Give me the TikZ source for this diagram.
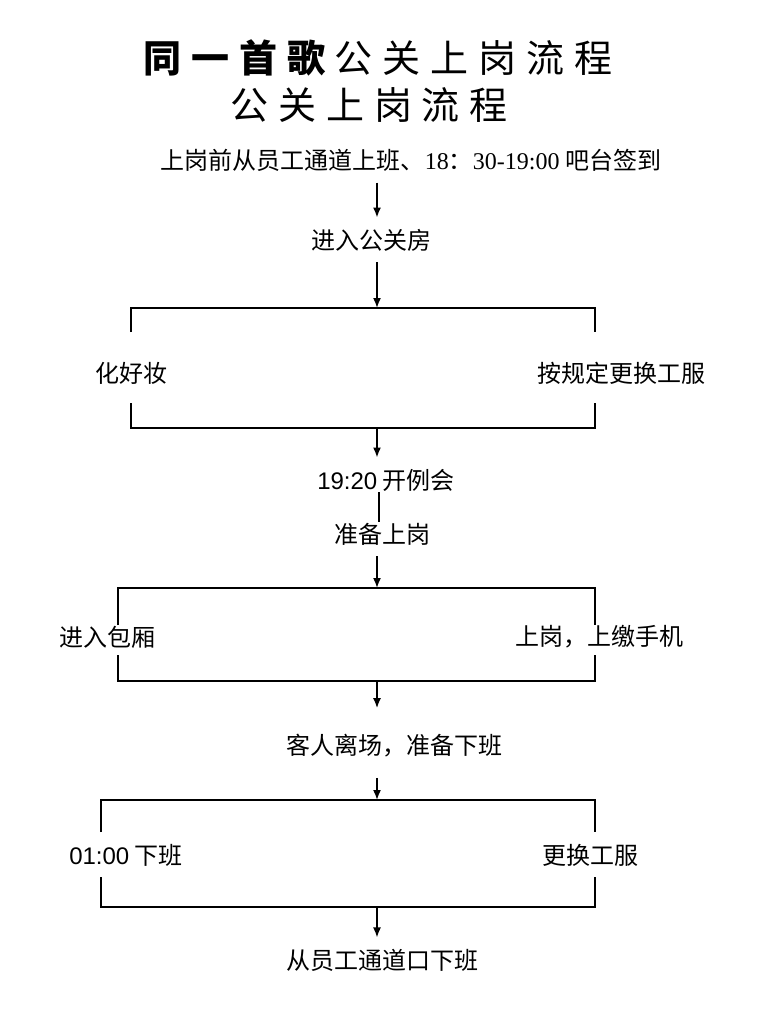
\documentclass[tikz,border=0pt]{standalone}
\usepackage{fontspec}
\setmainfont{Liberation Serif}
\newfontfamily\cjk{Noto Sans CJK SC}
\newfontfamily\cjktitle[LetterSpace=26]{Noto Sans CJK SC}
\newfontfamily\numserif{Liberation Serif}
\newfontfamily\numsans{Liberation Sans}
\usetikzlibrary{arrows.meta}
\newcommand\tgap{\hspace{4.94pt}}

\tikzset{
  titletext/.style={inner sep=0pt, anchor=west, font=\cjktitle\fontsize{19}{22}\selectfont},
  steptext/.style={inner xsep=0pt, inner ysep=5.5pt, font=\cjk\fontsize{12}{14}\selectfont},
  flowarrow/.style={-{Latex[length=5pt,width=4pt]}, line width=0.8pt},
  bracketline/.style={line width=1pt},
}

\begin{document}
\begin{tikzpicture}[x=0.5pt,y=-0.5pt]
  \useasboundingbox (0,0) rectangle (768,1024);
  \fill[white] (0,0) rectangle (768,1024);

  % titles
  \node[titletext] (title1) at (143,58) {{\bfseries 同\tgap 一\tgap 首\tgap 歌\tgap}公关上岗流程};
  \node[titletext] (title2) at (230,105) {公关上岗流程};

  \coordinate (spine) at (377,0);

  % steps on the spine
  \node[steptext] (start) at (411,160) {上岗前从员工通道上班、{\numserif 18}：{\numserif 30-19:00} 吧台签到};
  \node[steptext] (room) at (371,240) {进入公关房};
  \node[steptext] (meeting) at (386,480) {{\numsans 19:20} 开例会};
  \node[steptext] (ready) at (382,534) {准备上岗};
  \node[steptext] (leave) at (394.5,746) {客人离场，准备下班};
  \node[steptext] (exit) at (382.5,960) {从员工通道口下班};

  % bracket labels
  \node[steptext] (makeup) at (131.5,373) {化好妆};
  \node[steptext] (uniform) at (621,373) {按规定更换工服};
  \node[steptext] (box) at (107.5,637) {进入包厢};
  \node[steptext] (phone) at (599,637) {上岗，上缴手机};
  \node[steptext] (off) at (126,855) {{\numsans 01:00} 下班};
  \node[steptext] (change) at (590,855) {更换工服};

  % bracket corners
  \coordinate (b1tl) at (131,308);
  \coordinate (b1br) at (595,428);
  \coordinate (b2tl) at (118,588);
  \coordinate (b2br) at (595,681);
  \coordinate (b3tl) at (101,800);
  \coordinate (b3br) at (595,907);

  % brackets
  \draw[bracketline] (b1tl) ++(0,24) -- (b1tl) -- (b1tl -| b1br) -- ++(0,24);
  \draw[bracketline] (b1br) ++(0,-25) -- (b1br) -- (b1br -| b1tl) -- ++(0,-25);
  \draw[bracketline] (b2tl) ++(0,37) -- (b2tl) -- (b2tl -| b2br) -- ++(0,37);
  \draw[bracketline] (b2br) ++(0,-26) -- (b2br) -- (b2br -| b2tl) -- ++(0,-26);
  \draw[bracketline] (b3tl) ++(0,32) -- (b3tl) -- (b3tl -| b3br) -- ++(0,32);
  \draw[bracketline] (b3br) ++(0,-30) -- (b3br) -- (b3br -| b3tl) -- ++(0,-30);

  % arrows
  \draw[flowarrow] (start.south -| spine) -- (room.north -| spine);
  \draw[flowarrow] (room.south -| spine) -- (b1tl -| spine);
  \draw[flowarrow] (b1br -| spine) -- (meeting.north -| spine);
  \draw[bracketline, shorten <=-5pt, shorten >=-5pt] ([xshift=1pt]meeting.south -| spine) -- ([xshift=1pt]ready.north -| spine);
  \draw[flowarrow] (ready.south -| spine) -- (b2tl -| spine);
  \draw[flowarrow, shorten >=7.5pt] (b2br -| spine) -- (leave.north -| spine);
  \draw[flowarrow, shorten <=4.5pt] (leave.south -| spine) -- (b3tl -| spine);
  \draw[flowarrow] (b3br -| spine) -- (exit.north -| spine);
\end{tikzpicture}
\end{document}
